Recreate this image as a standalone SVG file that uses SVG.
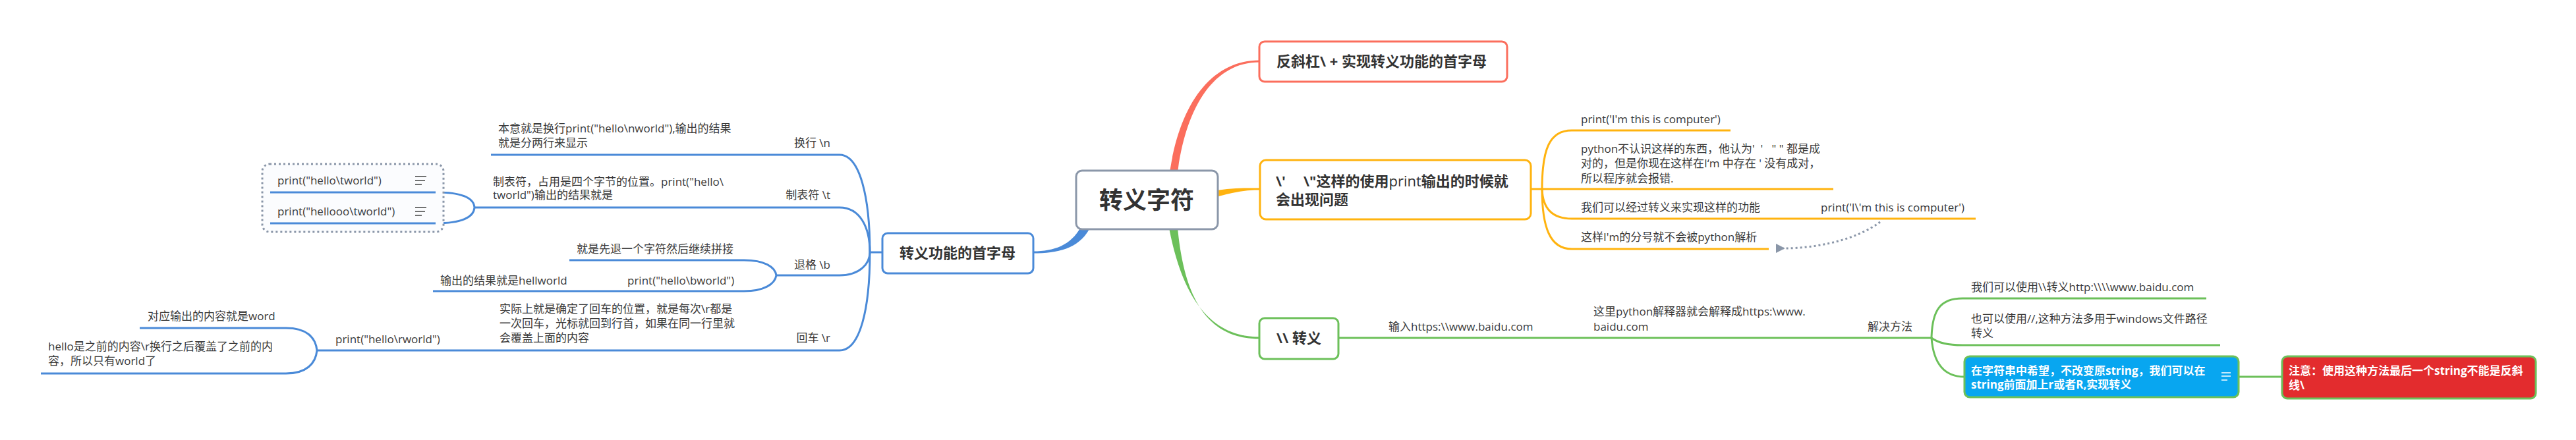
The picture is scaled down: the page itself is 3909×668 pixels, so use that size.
<svg xmlns="http://www.w3.org/2000/svg" width="3909" height="668" viewBox="0 0 3909 668">
<defs>
<style>
.t{font-family:"Open Sans","Noto Sans CJK SC",sans-serif;font-size:17px;fill:#3a3a3a}
.h{font-family:"Open Sans","Noto Sans CJK SC",sans-serif;font-size:22px;font-weight:700;fill:#333}
.wt{font-family:"Open Sans","Noto Sans CJK SC",sans-serif;font-size:17px;font-weight:700;fill:#fff}
.e{text-anchor:end}
.ln{fill:none;stroke-width:3}
.B{stroke:#4a8ad8}
.O{stroke:#ffb30f}
.G{stroke:#6cc05a}
.ic{stroke:#444;stroke-width:1.6}
.icw{stroke:#fff;stroke-width:1.6}
</style>
<marker id="arr" viewBox="0 0 10 10" refX="2" refY="5" markerWidth="14" markerHeight="14" orient="auto" markerUnits="userSpaceOnUse">
<path d="M0,5 L10,0 L10,10 Z" fill="#8a96a8"/>
</marker>
</defs>
<rect width="3909" height="668" fill="#fff"/>

<g id="connectors">
<!-- main branches -->
<path d="M1775,262 C1790,158 1838,91.5 1911,91.5 L1911,94.5 C1842,94.5 1800,162 1787,262 Z" fill="#fb6e5d"/>
<path d="M1640,345 C1625,372 1600,381.5 1568,381.5 L1568,384.5 C1605,384.5 1636,378 1653,348 Z" fill="#4a8ad8"/>
<path d="M1846,289 C1875,285 1890,285.5 1912,285.5 L1912,288.5 C1890,288.5 1875,291 1846,299 Z" fill="#ffb30f"/>
<path d="M1774,346 C1792,440 1830,511.5 1911,511.5 L1911,514.5 C1825,514.5 1796,440 1787,346 Z" fill="#6cc05a"/>
<!-- blue sub-branches -->
<path class="ln B" d="M1320,383 L1339,383"/>
<path class="ln B" d="M1274,235 C1305,235 1320,300 1320,383"/>
<path class="ln B" d="M1274,315 C1305,315 1320,345 1320,383"/>
<path class="ln B" d="M1274,418 C1305,418 1320,400 1320,383"/>
<path class="ln B" d="M1274,532 C1305,532 1320,470 1320,383"/>
<path class="ln B" d="M661,292 C700,292 719,300 720,315"/>
<path class="ln B" d="M661,339 C700,339 719,330 720,315"/>
<path class="ln B" d="M1129,395 C1160,395 1176,405 1178,418"/>
<path class="ln B" d="M1129,442 C1160,442 1176,431 1178,418"/>
<path class="ln B" d="M434,498 C465,498 479,512 481,532"/>
<path class="ln B" d="M434,567 C465,567 479,552 481,532"/>
<!-- orange sub-branches -->
<path class="ln O" d="M2323,287 L2385,287"/>
<path class="ln O" d="M2340,287 C2340,225 2352,198 2385,198"/>
<path class="ln O" d="M2340,287 C2341,316 2355,332 2385,332"/>
<path class="ln O" d="M2340,287 C2340,345 2352,378 2385,378"/>
<!-- green sub-branches -->
<path class="ln G" d="M2031,513 L2931,513"/>
<path class="ln G" d="M2931,513 C2932,470 2945,453 2978,453"/>
<path class="ln G" d="M2931,513 C2940,520 2955,524 2978,524"/>
<path class="ln G" d="M2931,513 C2934,552 2950,572 2981,572"/>
<path class="ln G" d="M3397,572 L3463,572"/>
<!-- dotted relationship -->
<path d="M2853,337 C2820,362 2762,377 2706,377" fill="none" stroke="#8a96a8" stroke-width="3" stroke-dasharray="3 4" marker-end="url(#arr)"/>
</g>

<g id="root">
<rect x="1633" y="259" width="215" height="89" rx="9" fill="#fff" stroke="#8b97a9" stroke-width="3"/>
<text x="1740" y="317" text-anchor="middle" font-family="'Noto Sans CJK SC',sans-serif" font-size="36" font-weight="700" fill="#333">转义字符</text>
</g>

<g id="n-escape-first">
<rect x="1339" y="354" width="229" height="61" rx="8" fill="#fff" stroke="#4a8ad8" stroke-width="3"/>
<text class="h" x="1453" y="392" text-anchor="middle">转义功能的首字母</text>
</g>

<g id="n-newline">
<path class="ln B" d="M1190,235 L1274,235"/>
<text class="t e" x="1260" y="223">换行 \n</text>
</g>
<g id="n-newline-desc">
<path class="ln B" d="M745,235 L1190,235"/>
<text class="t" x="756" y="201">本意就是换行print("hello\nworld"),输出的结果</text>
<text class="t" x="756" y="223">就是分两行来显示</text>
</g>

<g id="n-tab">
<path class="ln B" d="M1180,315 L1274,315"/>
<text class="t e" x="1260" y="302">制表符 \t</text>
</g>
<g id="n-tab-desc">
<path class="ln B" d="M720,315 L1180,315"/>
<text class="t" x="748" y="282">制表符，占用是四个字节的位置。print("hello\</text>
<text class="t" x="748" y="302">tworld")输出的结果就是</text>
</g>
<g id="n-tab-group">
<rect x="398" y="249" width="275" height="103" rx="11" fill="#fbfcfe" stroke="#8a96a8" stroke-width="3" stroke-dasharray="3 4"/>
</g>
<g id="n-tab-ex1">
<path class="ln B" d="M410,292 L661,292"/>
<text class="t" x="421" y="280">print("hello\tworld")</text>
<path class="ic" d="M630,268 H647 M630,274 H645 M630,280 H640"/>
</g>
<g id="n-tab-ex2">
<path class="ln B" d="M410,339 L661,339"/>
<text class="t" x="421" y="327">print("hellooo\tworld")</text>
<path class="ic" d="M630,315 H647 M630,321 H645 M630,327 H640"/>
</g>

<g id="n-back">
<path class="ln B" d="M1178,418 L1274,418"/>
<text class="t e" x="1260" y="408">退格 \b</text>
</g>
<g id="n-back-desc">
<path class="ln B" d="M864,395 L1129,395"/>
<text class="t" x="875" y="384">就是先退一个字符然后继续拼接</text>
</g>
<g id="n-back-ex">
<path class="ln B" d="M941,442 L1129,442"/>
<text class="t" x="952" y="432">print("hello\bworld")</text>
</g>
<g id="n-back-out">
<path class="ln B" d="M657,442 L941,442"/>
<text class="t" x="668" y="432">输出的结果就是hellworld</text>
</g>

<g id="n-cr">
<path class="ln B" d="M1190,532 L1274,532"/>
<text class="t e" x="1260" y="519">回车 \r</text>
</g>
<g id="n-cr-desc">
<path class="ln B" d="M745,532 L1190,532"/>
<text class="t" x="758" y="475">实际上就是确定了回车的位置，就是每次\r都是</text>
<text class="t" x="758" y="497">一次回车，光标就回到行首，如果在同一行里就</text>
<text class="t" x="758" y="519">会覆盖上面的内容</text>
</g>
<g id="n-cr-ex">
<path class="ln B" d="M481,532 L745,532"/>
<text class="t" x="509" y="521">print("hello\rworld")</text>
</g>
<g id="n-cr-out1">
<path class="ln B" d="M212,498 L434,498"/>
<text class="t" x="224" y="486">对应输出的内容就是word</text>
</g>
<g id="n-cr-out2">
<path class="ln B" d="M62,567 L434,567"/>
<text class="t" x="73" y="532">hello是之前的内容\r换行之后覆盖了之前的内</text>
<text class="t" x="73" y="554">容，所以只有world了</text>
</g>

<g id="n-backslash">
<rect x="1911" y="63" width="376" height="61" rx="8" fill="#fff" stroke="#fb6e5d" stroke-width="3"/>
<text class="h" x="1937" y="101">反斜杠\ + 实现转义功能的首字母</text>
</g>

<g id="n-quote">
<rect x="1912" y="243" width="411" height="90" rx="9" fill="#fff" stroke="#ffb30f" stroke-width="3"/>
<text class="h" x="1936" y="283"><tspan>\'</tspan><tspan x="1978">\"这样的使用<tspan font-weight="400">print</tspan>输出的时候就</tspan></text>
<text class="h" x="1936" y="311">会出现问题</text>
</g>
<g id="q1">
<path class="ln O" d="M2385,198 L2626,198"/>
<text class="t" x="2399" y="187">print('I'm this is computer')</text>
</g>
<g id="q2">
<path class="ln O" d="M2385,287 L2782,287"/>
<text class="t" x="2399" y="232" xml:space="preserve">python不认识这样的东西，他认为'  '   " " 都是成</text>
<text class="t" x="2399" y="254">对的，但是你现在这样在I‘m 中存在 ' 没有成对，</text>
<text class="t" x="2399" y="277">所以程序就会报错.</text>
</g>
<g id="q3">
<path class="ln O" d="M2385,332 L2752,332"/>
<text class="t" x="2399" y="321">我们可以经过转义来实现这样的功能</text>
</g>
<g id="q3a">
<path class="ln O" d="M2752,332 L2998,332"/>
<text class="t" x="2763" y="321">print('I\'m this is computer')</text>
</g>
<g id="q4">
<path class="ln O" d="M2385,378 L2684,378"/>
<text class="t" x="2399" y="366">这样I'm的分号就不会被python解析</text>
</g>

<g id="n-bs">
<rect x="1911" y="483" width="120" height="62" rx="8" fill="#fff" stroke="#6cc05a" stroke-width="3"/>
<text class="h" x="1971" y="521" text-anchor="middle">\\ 转义</text>
</g>
<g id="g1">
<text class="t" x="2107" y="502">输入https:\\www.baidu.com</text>
</g>
<g id="g2">
<text class="t" x="2418" y="479">这里python解释器就会解释成https:\www.</text>
<text class="t" x="2418" y="502">baidu.com</text>
</g>
<g id="g3">
<text class="t" x="2834" y="502">解决方法</text>
</g>
<g id="g4">
<path class="ln G" d="M2978,453 L3348,453"/>
<text class="t" x="2991" y="442">我们可以使用\\转义http:\\\\www.baidu.com</text>
</g>
<g id="g5">
<path class="ln G" d="M2978,524 L3369,524"/>
<text class="t" x="2991" y="490">也可以使用//,这种方法多用于windows文件路径</text>
<text class="t" x="2991" y="512">转义</text>
</g>
<g id="g6">
<rect x="2981" y="541" width="416" height="62" rx="8" fill="#08a6f0" stroke="#6cc05a" stroke-width="3"/>
<text class="wt" x="2991" y="569">在字符串中希望，不改变原string，我们可以在</text>
<text class="wt" x="2991" y="590">string前面加上r或者R,实现转义</text>
<path class="icw" d="M3371,566 H3385 M3371,571 H3385 M3371,577 H3380"/>
</g>
<g id="g7">
<rect x="3463" y="541" width="385" height="64" rx="8" fill="#e32c2e" stroke="#6cc05a" stroke-width="3"/>
<text class="wt" x="3473" y="569">注意：使用这种方法最后一个string不能是反斜</text>
<text class="wt" x="3473" y="591">线\</text>
</g>
</svg>
